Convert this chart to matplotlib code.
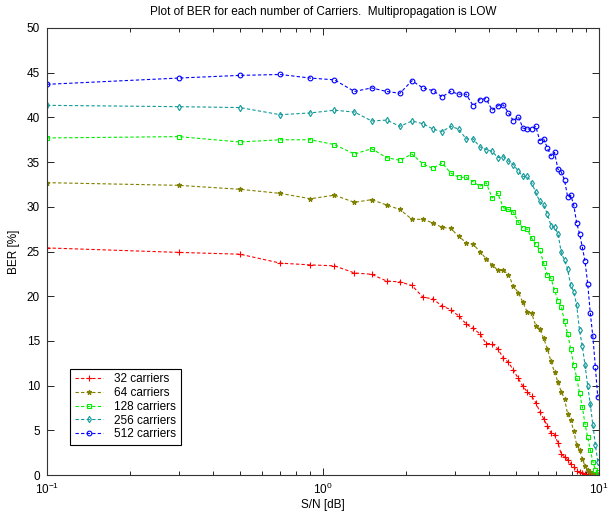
import numpy as np
import matplotlib
matplotlib.use("Agg")
import matplotlib.pyplot as plt
from matplotlib.ticker import LogLocator, FixedLocator

plt.rcParams['font.family'] = ['Liberation Sans', 'DejaVu Sans']

snr = np.round(np.arange(0.1, 10.0, 0.2), 1)  # 0.1 ... 9.9

ber_32 = [25.4, 24.9, 24.7, 23.7, 23.5, 23.4, 22.6, 22.45, 21.7, 21.6,
          21.2, 19.9, 19.7, 18.9, 18.5, 17.8, 16.9, 16.4, 15.8, 14.7,
          14.7, 14.1, 13.1, 12.6, 11.7, 10.8, 9.9, 9.3, 8.8, 8.1,
          7.1, 6.3, 5.5, 4.7, 4.5, 3.6, 2.3, 2.05, 1.7, 1.25,
          0.9, 0.45, 0.35, 0.2, 0.15, 0.1, 0.05, 0.05, 0.02, 0.0]
ber_64 = [32.7, 32.4, 31.96, 31.5, 30.9, 31.3, 30.5, 30.8, 30.2, 29.7,
          28.6, 28.6, 28.2, 27.7, 27.6, 26.7, 26.0, 25.8, 25.0, 24.2,
          23.5, 22.9, 22.9, 22.4, 21.1, 20.4, 19.3, 18.2, 18.1, 16.7,
          16.3, 15.3, 14.1, 12.7, 11.5, 10.4, 9.3, 8.5, 6.8, 6.15,
          4.9, 3.4, 2.8, 1.8, 1.0, 0.56, 0.3, 0.15, 0.08, 0.05]
ber_128 = [37.7, 37.85, 37.25, 37.5, 37.5, 36.96, 35.9, 36.5, 35.5, 35.2,
           35.9, 34.8, 34.3, 34.9, 33.8, 33.3, 33.3, 32.8, 32.3, 32.7,
           31.0, 31.5, 29.9, 29.7, 29.4, 28.3, 27.6, 27.5, 26.5, 25.8,
           25.2, 23.7, 22.4, 22.0, 20.7, 19.5, 18.8, 17.2, 15.8, 14.1,
           12.3, 10.9, 9.2, 7.65, 5.7, 4.2, 2.8, 1.5, 0.6, 0.3]
ber_256 = [41.35, 41.2, 41.1, 40.3, 40.5, 40.8, 40.6, 39.6, 39.7, 39.0,
           39.6, 39.3, 38.7, 38.4, 39.0, 38.7, 37.6, 37.6, 36.7, 36.4,
           36.2, 35.5, 35.6, 35.1, 34.7, 34.0, 33.4, 33.4, 32.7, 31.6,
           30.6, 30.2, 29.2, 27.9, 27.7, 27.0, 24.9, 24.0, 23.0, 21.2,
           20.5, 19.0, 16.2, 14.4, 12.3, 10.0, 7.9, 5.6, 3.4, 1.5]
ber_512 = [43.7, 44.4, 44.7, 44.8, 44.4, 44.2, 42.9, 43.3, 42.9, 42.7,
           44.1, 43.3, 43.0, 42.3, 42.9, 42.6, 42.6, 41.3, 42.0, 42.1,
           40.8, 41.3, 41.4, 40.5, 39.6, 40.1, 38.8, 38.7, 38.7, 39.0,
           37.4, 37.6, 36.6, 35.7, 36.1, 34.2, 33.9, 33.0, 31.1, 31.3,
           30.2, 28.2, 27.0, 25.5, 23.9, 21.4, 18.1, 15.5, 12.1, 8.7]

labels = ['32 carriers', '64 carriers', '128 carriers', '256 carriers', '512 carriers']
series = [ber_32, ber_64, ber_128, ber_256, ber_512]
colors = ['#ff0000', '#808000', '#00ee00', '#119999', '#0000ff']
markers = ['+', '*', 's', 'd', 'o']
msizes = [4, 3.5, 3.2, 3.2, 3.4]

fig = plt.figure(figsize=(6.15, 5.12), dpi=100)
ax = fig.add_axes([47/615, 37/512, 552/615, 447/512])

for y, lab, c, m, ms in zip(series, labels, colors, markers, msizes):
    filled = m in ('*',)
    ax.plot(snr, y, linestyle='--', color=c, linewidth=0.8, marker=m,
            markersize=ms, markerfacecolor=(c if filled else 'none'),
            markeredgecolor=c, markeredgewidth=0.8, label=lab, dashes=(3, 2))

ax.set_xscale('log')
ax.set_xlim(0.1, 10)
ax.set_ylim(0, 50)
ax.yaxis.set_major_locator(FixedLocator(np.arange(0, 51, 5)))
ax.xaxis.set_minor_locator(LogLocator(base=10, subs=np.arange(2, 10)))

ax.tick_params(which='both', direction='in', top=True, right=True,
               labelsize=8.5, colors='black', width=0.6)
ax.tick_params(which='major', length=5)
ax.tick_params(which='minor', length=3)
ax.tick_params(axis='x', which='major', pad=5)
ax.tick_params(axis='y', which='major', pad=5)
for s in ax.spines.values():
    s.set_linewidth(0.8)
    s.set_color('#333333')

ax.set_title('Plot of BER for each number of Carriers.  Multipropagation is LOW',
             fontsize=8.5, pad=9)
ax.set_xlabel('S/N [dB]', fontsize=8.5, labelpad=1)
ax.set_ylabel('BER [%]', fontsize=8.5, labelpad=5)

leg = ax.legend(loc='lower left', bbox_to_anchor=(0.042, 0.067), fontsize=8.5,
                frameon=True, fancybox=False, framealpha=1, edgecolor='black',
                handlelength=2.4, borderpad=0.4, labelspacing=0.15,
                handletextpad=0.9, borderaxespad=0)
leg.get_frame().set_linewidth(0.8)

fig.savefig('out.png', dpi=100)
